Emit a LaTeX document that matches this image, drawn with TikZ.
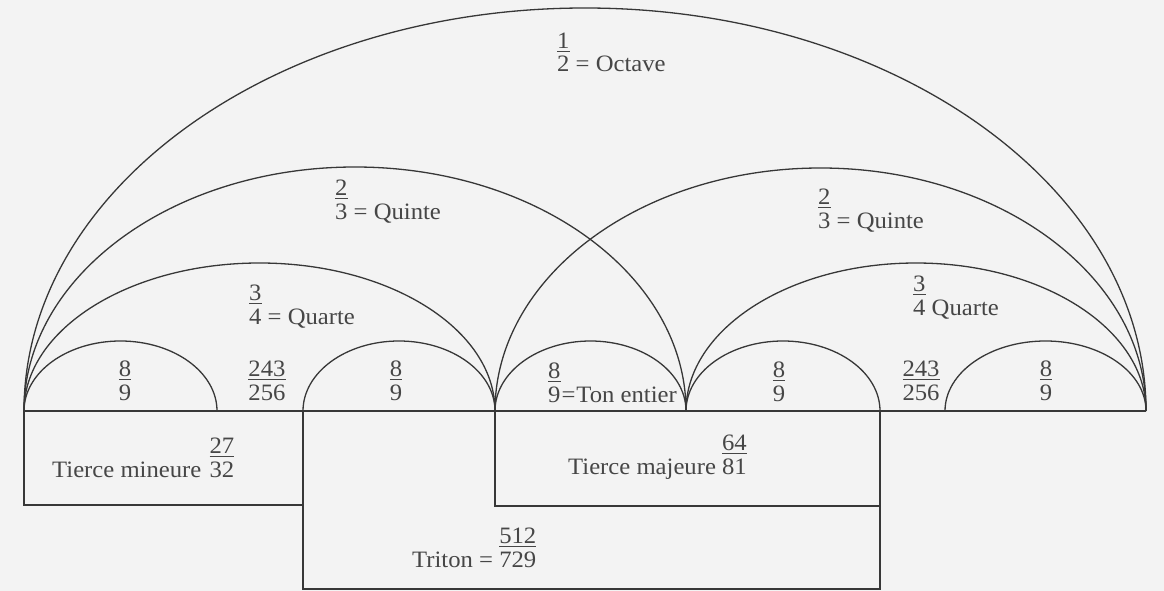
\documentclass[tikz,border=0pt]{standalone}
\usepackage{fontspec}
\setmainfont[FakeStretch=1.05]{Liberation Serif}
\definecolor{ink}{RGB}{55,55,55}
\definecolor{txt}{RGB}{70,70,70}
\definecolor{paper}{RGB}{243,243,243}
\newcommand\frc[2]{\vbox{\offinterlineskip\halign{\hfil##\hfil\cr
  \vphantom{0}#1\cr
  \noalign{\kern2.2pt\hrule height 1.2pt\kern4.4pt}
  \vphantom{0}#2\cr}}}
\begin{document}
\begin{tikzpicture}[x=1pt,y=-1pt,
  line/.style={draw=ink,line width=1.3pt},
  lbl/.style={inner sep=0pt,text=txt,font=\fontsize{23.5}{24}\selectfont}]
\fill[paper] (0,0) rectangle (1164,591);
\useasboundingbox (0,0) rectangle (1164,591);
% baseline points
\coordinate (A) at (24,411);
\coordinate (B) at (217,411);
\coordinate (C) at (303,411);
\coordinate (D) at (495,411);
\coordinate (E) at (686,411);
\coordinate (F) at (880,411);
\coordinate (G) at (945,411);
\coordinate (H) at (1146,411);
\coordinate (Cb) at (303,589);
\coordinate (Fb) at (880,589);
\coordinate (Ab) at (24,505);
\coordinate (Cm) at (303,505);
\coordinate (Db) at (495,506);
\coordinate (Fm) at (880,506);
% baseline
\draw[line] (A) -- (H);
% octave
\draw[line] (A) arc[start angle=180,end angle=360,x radius=561,y radius=403];
% quintes
\draw[line] (A) arc[start angle=180,end angle=360,x radius=331,y radius=244];
\draw[line] (D) arc[start angle=180,end angle=360,x radius=325.5,y radius=243];
% quartes
\draw[line] (A) arc[start angle=180,end angle=360,x radius=235.5,y radius=148];
\draw[line] (E) arc[start angle=180,end angle=360,x radius=230,y radius=148];
% tons
\draw[line] (A) arc[start angle=180,end angle=360,x radius=96.5,y radius=70];
\draw[line] (C) arc[start angle=180,end angle=360,x radius=96,y radius=70];
\draw[line] (D) arc[start angle=180,end angle=360,x radius=95.5,y radius=70];
\draw[line] (E) arc[start angle=180,end angle=360,x radius=97,y radius=70];
\draw[line] (G) arc[start angle=180,end angle=360,x radius=100.5,y radius=70];
% boxes
\draw[line] (A) -- (Ab) -- (Cm);
\draw[line] (C) -- (Cb) -- (Fb) -- (F);
\draw[line] (D) -- (Db) -- (Fm);
% labels
\node[lbl,anchor=base west] (octave) at (557,72) {\frc{1}{2} = Octave};
\node[lbl,anchor=base west] (quinteL) at (335,219) {\frc{2}{3} = Quinte};
\node[lbl,anchor=base west] (quinteR) at (818,228) {\frc{2}{3} = Quinte};
\node[lbl,anchor=base west] (quarteL) at (249,324) {\frc{3}{4} = Quarte};
\node[lbl,anchor=base west] (quarteR) at (913,315) {\frc{3}{4} Quarte};
\node[lbl,anchor=base] (t1) at (125,400) {\frc{8}{9}};
\node[lbl,anchor=base] (l1) at (267,400) {\frc{243}{256}};
\node[lbl,anchor=base] (t2) at (396,400) {\frc{8}{9}};
\node[lbl,anchor=base west] (t3) at (548,402) {\frc{8}{9}\kern1pt=\kern1pt Ton entier};
\node[lbl,anchor=base] (t4) at (779,401) {\frc{8}{9}};
\node[lbl,anchor=base] (l2) at (921,400) {\frc{243}{256}};
\node[lbl,anchor=base] (t5) at (1046,400) {\frc{8}{9}};
\node[lbl,anchor=base west] (tmin) at (52,477) {Tierce mineure\hspace{0.35em}\frc{27}{32}};
\node[lbl,anchor=base west] (tmaj) at (568,474) {Tierce majeure \frc{64}{81}};
\node[lbl,anchor=base west] (triton) at (412,567) {Triton = \frc{512}{729}};
\end{tikzpicture}
\end{document}
